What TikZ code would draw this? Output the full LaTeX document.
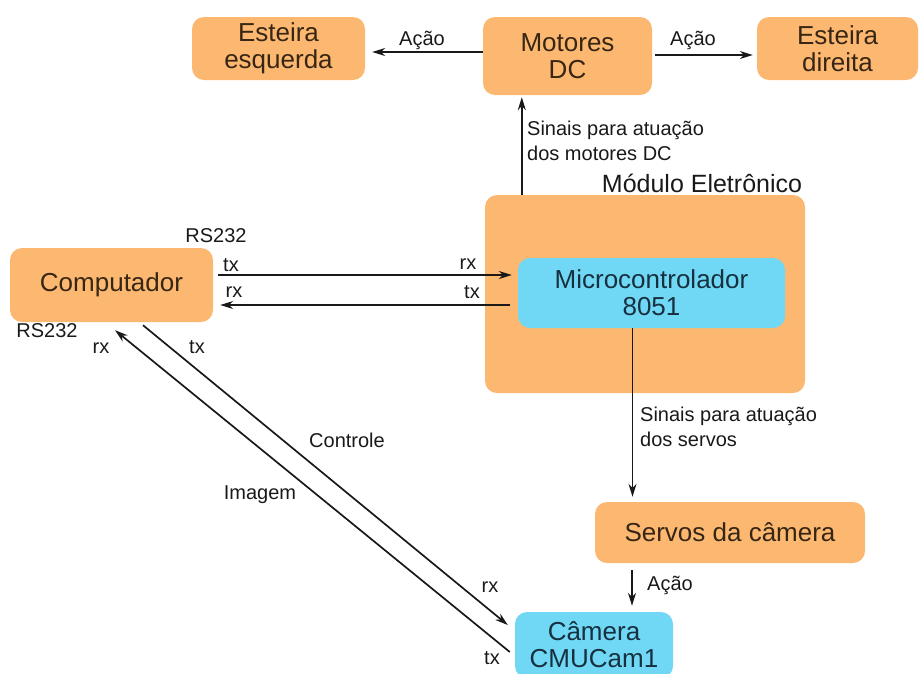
\documentclass[tikz,border=0pt]{standalone}
\usepackage{fontspec}
\setmainfont{Liberation Sans}
\usetikzlibrary{arrows.meta,calc}
\definecolor{boxorange}{RGB}{252,184,112}
\definecolor{boxcyan}{RGB}{112,216,245}
\definecolor{inkbrown}{RGB}{55,38,20}
\definecolor{inkteal}{RGB}{22,48,64}
\definecolor{labelink}{RGB}{25,25,25}
\begin{document}
\begin{tikzpicture}[x=1pt,y=-1pt,
  blk/.style={rounded corners=12pt, inner sep=0pt, align=center,
              font=\fontsize{26}{27}\selectfont},
  obox/.style={blk, fill=boxorange, text=inkbrown},
  cbox/.style={blk, fill=boxcyan, text=inkteal},
  lbl/.style={font=\fontsize{20}{25}\selectfont, text=labelink, inner sep=0pt},
  arr/.style={line width=1.7pt, draw=labelink, -{Stealth[length=13pt,width=8pt]}}]
\useasboundingbox (0,0) rectangle (924,673);

% blocks
\node[obox, minimum width=173pt, minimum height=63pt] (esq) at (278.5,48.5) {Esteira\\esquerda};
\node[obox, minimum width=169pt, minimum height=78pt] (mot) at (567.5,56) {Motores\\DC};
\node[obox, minimum width=161pt, minimum height=63pt] (dir) at (837.5,48.5) {Esteira\\direita};
\node[obox, minimum width=320pt, minimum height=198pt] (mod) at (645,294) {};
\node[cbox, minimum width=267pt, minimum height=70pt] (micro) at (651.5,293) {Microcontrolador\\8051};
\node[obox, minimum width=203pt, minimum height=74pt] (comp) at (111.5,285) {Computador};
\node[obox, minimum width=270pt, minimum height=61pt] (serv) at (730,532.5) {Servos da câmera};
\node[cbox, minimum width=158pt, minimum height=66pt] (cam) at (594,645) {Câmera\\CMUCam1};

% texts
\node[font=\fontsize{25}{26}\selectfont, text=labelink, inner sep=0pt] (modtitle) at (702,183) {Módulo Eletrônico};
\node[lbl] (acaoL) at (422,40) {Ação};
\node[lbl] (acaoR) at (693,40) {Ação};
\node[lbl, anchor=west, align=left] (sigmot) at (527,141) {Sinais para atuação\\dos motores DC};
\node[lbl] (rsA) at (216,236) {RS232};
\node[lbl] (rsB) at (47,331) {RS232};
\node[lbl] (txA) at (231,265) {tx};
\node[lbl] (rxA) at (468,264) {rx};
\node[lbl] (rxB) at (234,292) {rx};
\node[lbl] (txB) at (472,292) {tx};
\node[lbl] (rxC) at (101,348) {rx};
\node[lbl] (txC) at (197,347) {tx};
\node[lbl] (ctl) at (347,440) {Controle};
\node[lbl] (img) at (260,495) {Imagem};
\node[lbl] (rxD) at (490,587) {rx};
\node[lbl] (txD) at (492,658) {tx};
\node[lbl, anchor=west, align=left] (sigserv) at (640,427) {Sinais para atuação\\dos servos};
\node[lbl] (acaoS) at (670,585) {Ação};

% connectors
\draw[arr] ($(mot.west)+(0,-4)$) -- ($(mot.west -| esq.east)+(7,-4)$);
\draw[arr] ($(mot.east)+(3,-1)$) -- ($(mot.east -| dir.west)+(-4,-1)$);
\draw[arr] ($(mod.north west)+(37,0)$) -- ($(mod.north west |- mot.south)+(37,2)$);
\draw[arr] ($(comp.east)+(5,-10)$) -- ($(comp.east -| micro.west)+(-6,-10)$);
\draw[arr] ($(comp.east -| micro.west)+(-8,20)$) -- ($(comp.east)+(7,20)$);
\draw[arr] ($(cam.west)+(-5,7)$) -- ($(comp.south)+(3.5,8)$);
\draw[arr] ($(comp.south)+(31.5,3)$) -- ($(cam.west)+(-7,-20)$);
\draw[arr] ($(micro.south)+(-19,0)$) -- ($(micro.south |- serv.north)+(-19,-5)$);
\draw[arr] ($(serv.south)+(-98,7)$) -- ($(serv.south |- cam.north)+(-98,-6)$);
\end{tikzpicture}
\end{document}
